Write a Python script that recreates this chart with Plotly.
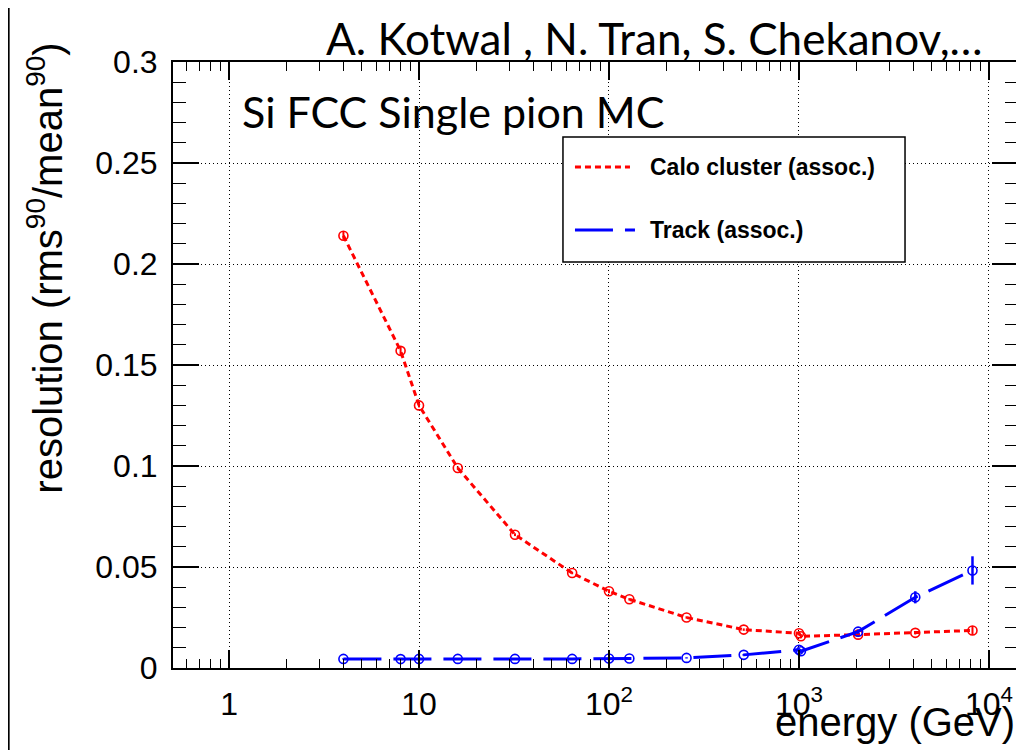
import plotly.graph_objects as go

# energies (GeV) and resolution values
calo_e = [4, 8, 10, 16, 32, 64, 100, 128, 256, 512, 1000, 1024, 2048, 4096, 8192]
calo_res = [0.214, 0.157, 0.130, 0.099, 0.066, 0.047, 0.038, 0.034, 0.025, 0.019,
            0.0172, 0.0157, 0.0165, 0.0174, 0.0186]
calo_err = [0.0020, 0.0020, 0.0010, 0.0008, 0.0007, 0.0006, 0.0010, 0.0006, 0.0006, 0.0006,
            0.0010, 0.0010, 0.0006, 0.0008, 0.0022]

track_e = [4, 8, 10, 16, 32, 64, 100, 128, 256, 512, 1000, 1024, 2048, 4096, 8192]
track_res = [0.0045, 0.0044, 0.0045, 0.0045, 0.0045, 0.0045, 0.0047, 0.0047, 0.0050, 0.0065,
             0.0090, 0.0083, 0.0180, 0.0350, 0.0483]
track_err = [0.0003, 0.0003, 0.0003, 0.0003, 0.0003, 0.0003, 0.0003, 0.0003, 0.0003, 0.0004,
             0.0008, 0.0008, 0.0010, 0.0030, 0.0070]

x_tickvals = [1, 10, 100, 1000, 10000]
x_ticktext = ['1', '10', '10<sup>2</sup>', '10<sup>3</sup>', '10<sup>4</sup>']
x_minor = [k * 10.0 ** d for d in range(-1, 5) for k in range(2, 10)]
y_tickvals = [0, 0.05, 0.1, 0.15, 0.2, 0.25, 0.3]
y_ticktext = ['0', '0.05', '0.1', '0.15', '0.2', '0.25', '0.3']

legend_names = ['Calo cluster (assoc.)', 'Track (assoc.)']

RED = '#ff0000'
BLUE = '#0000ff'
RED_DASH = '6px,4px'
BLUE_DASH = '38px,12px'
HELV = 'Liberation Sans, Arial, sans-serif'
SLIDE = 'Lato, Open Sans, sans-serif'

fig = go.Figure()

fig.add_trace(go.Scatter(
    x=calo_e, y=calo_res, mode='lines+markers', name=legend_names[0],
    error_y=dict(type='data', array=calo_err, color=RED, thickness=2, width=0),
    line=dict(color=RED, width=3, dash=RED_DASH),
    marker=dict(symbol='circle-open', size=9, color=RED, line=dict(width=1.6)),
))
fig.add_trace(go.Scatter(
    x=track_e, y=track_res, mode='lines+markers', name=legend_names[1],
    error_y=dict(type='data', array=track_err, color=BLUE, thickness=2.5, width=0),
    line=dict(color=BLUE, width=3, dash=BLUE_DASH),
    marker=dict(symbol='circle-open', size=9, color=BLUE, line=dict(width=1.6)),
))

axis_common = dict(
    showline=True, linecolor='black', linewidth=2, mirror='allticks',
    ticks='inside', tickcolor='black', tickwidth=1.5,
    showgrid=True, gridcolor='black', griddash='1px,3px', gridwidth=1.3,
    zeroline=False, automargin=False,
    tickfont=dict(family=HELV, size=32, color='black'),
)

fig.update_xaxes(
    type='log', range=[-0.295, 4.153],
    tickvals=x_tickvals, ticktext=x_ticktext, ticklen=18, ticklabelstandoff=7,
    minor=dict(ticks='inside', ticklen=9, tickvals=x_minor, tickcolor='black',
               tickwidth=1.3, showgrid=False),
    **axis_common,
)
fig.update_yaxes(
    range=[0, 0.3], tickvals=y_tickvals, ticktext=y_ticktext, ticklen=26, ticklabelstandoff=7,
    minor=dict(ticks='inside', ticklen=13, dtick=0.01, tickcolor='black',
               tickwidth=1.3, showgrid=False),
    **axis_common,
)

# hand-drawn ROOT-style legend box (paper coords)
lx0, lx1, ly0, ly1 = 0.4615, 0.8663, 0.670, 0.8762
sx0, sx1, tx = 0.4757, 0.5467, 0.5621
rows_y = [0.8267, 0.7228]

shapes = [
    dict(type='rect', xref='paper', yref='paper', x0=lx0, x1=lx1, y0=ly0, y1=ly1,
         fillcolor='white', line=dict(color='black', width=1.5), layer='above'),
    dict(type='line', xref='paper', yref='paper', x0=sx0, x1=0.5408, y0=rows_y[0], y1=rows_y[0],
         line=dict(color=RED, width=3, dash=RED_DASH), layer='above'),
    dict(type='line', xref='paper', yref='paper', x0=sx0, x1=sx1, y0=rows_y[1], y1=rows_y[1],
         line=dict(color=BLUE, width=3, dash=BLUE_DASH), layer='above'),
    # slide border on the far left
    dict(type='line', xref='paper', yref='paper', x0=-0.1945, x1=-0.1945, y0=-0.3, y1=1.2,
         line=dict(color='black', width=2)),
]

annotations = [
    dict(text=name, x=tx, y=yy, xref='paper', yref='paper', xanchor='left', yanchor='middle',
         showarrow=False, font=dict(family=HELV, size=23, color='black', weight='bold'))
    for name, yy in zip(legend_names, rows_y)
]
annotations += [
    dict(text='A. Kotwal , N. Tran, S. Chekanov,…', x=0.961, y=1.0396, xref='paper', yref='paper',
         xanchor='right', yanchor='middle', showarrow=False,
         font=dict(family=SLIDE, size=44, color='black')),
    dict(text='Si FCC Single pion MC', x=0.0793, y=0.919, xref='paper', yref='paper',
         xanchor='left', yanchor='middle', showarrow=False,
         font=dict(family=SLIDE, size=43, color='black')),
    dict(text='resolution (rms<sup>90</sup>/mean<sup>90</sup>)', x=-0.1515, y=1.036,
         xref='paper', yref='paper', xanchor='center', yanchor='top', textangle=-90,
         showarrow=False, font=dict(family=HELV, size=40, color='black')),
    dict(text='energy (GeV)', x=0.9988, y=-0.05, xref='paper', yref='paper',
         xanchor='right', yanchor='top', showarrow=False,
         font=dict(family=HELV, size=40, color='black')),
]

# page body adds 8px offset, so figure is 8px smaller and margins shifted
fig.update_layout(
    width=1016, height=742,
    margin=dict(l=165, r=6, t=54, b=82),
    paper_bgcolor='white', plot_bgcolor='white',
    showlegend=False,
    annotations=annotations,
    shapes=shapes,
)

fig.write_html('out.html')
